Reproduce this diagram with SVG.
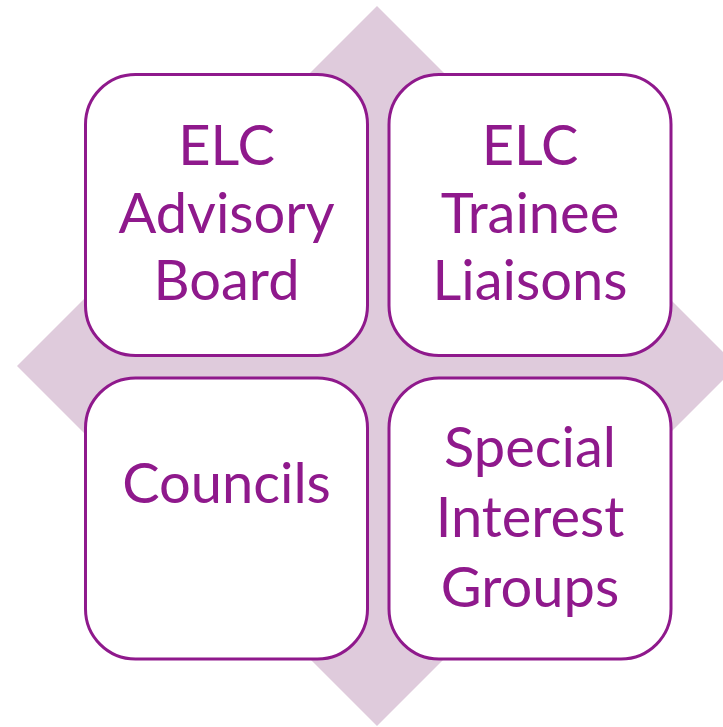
<svg xmlns="http://www.w3.org/2000/svg" width="723" height="727" viewBox="0 0 723 727">
<style>
.bg{fill:#dfcbdc}
.box{fill:#ffffff;stroke:#8f198c;stroke-width:3}
.t{font-family:Lato,"Open Sans","Liberation Sans",sans-serif;font-size:56px;fill:#8f198c;text-anchor:middle}
</style>
<rect width="723" height="727" fill="#ffffff"/>
<polygon class="bg" points="377,6 737,366 377,726 17,366"/>
<g id="connectors"></g>
<g id="node-advisory-board">
<rect class="box" x="85.5" y="74.5" width="282" height="281" rx="50" ry="50"/>
<text class="t" x="226.5"><tspan x="226.5" y="165">ELC</tspan><tspan x="226.5" y="232.5">Advisory</tspan><tspan x="226.5" y="300">Board</tspan></text>
</g>
<g id="node-trainee-liaisons">
<rect class="box" x="389" y="74.5" width="282" height="281" rx="50" ry="50"/>
<text class="t" x="530"><tspan x="530" y="165">ELC</tspan><tspan x="530" y="232.5">Trainee</tspan><tspan x="530" y="300">Liaisons</tspan></text>
</g>
<g id="node-councils">
<rect class="box" x="85.5" y="378" width="282" height="281" rx="50" ry="50"/>
<text class="t" x="226.5" y="503">Councils</text>
</g>
<g id="node-special-interest-groups">
<rect class="box" x="389" y="378" width="282" height="281" rx="50" ry="50"/>
<text class="t" x="530"><tspan x="530" y="466.5">Special</tspan><tspan x="530" y="537">Interest</tspan><tspan x="530" y="607">Groups</tspan></text>
</g>
</svg>
